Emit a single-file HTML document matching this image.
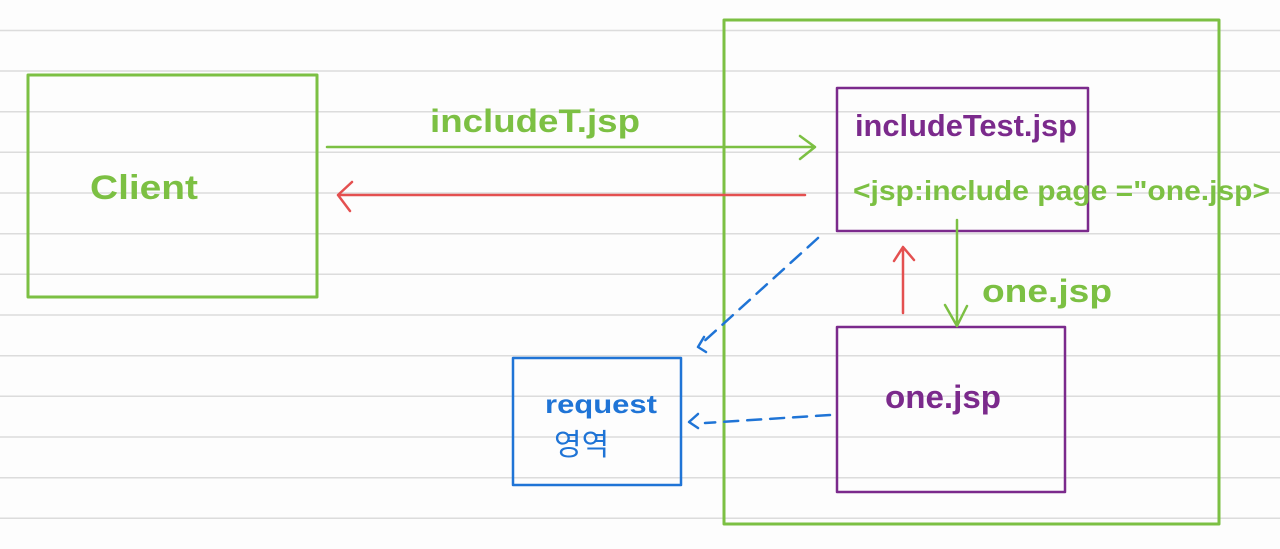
<!DOCTYPE html>
<html><head><meta charset="utf-8"><style>
html,body{margin:0;padding:0;background:#fdfdfd;}
svg{display:block}
text{font-family:"Liberation Sans","Noto Sans CJK KR",sans-serif;}
</style></head><body>
<svg width="1280" height="549" viewBox="0 0 1280 549" xmlns="http://www.w3.org/2000/svg">
<g stroke="#dcdcdc" stroke-width="1.5">
<line x1="0" y1="30.5" x2="1280" y2="30.5"/><line x1="0" y1="71" x2="1280" y2="71"/>
<line x1="0" y1="111.7" x2="1280" y2="111.7"/><line x1="0" y1="152.3" x2="1280" y2="152.3"/>
<line x1="0" y1="193" x2="1280" y2="193"/><line x1="0" y1="233.7" x2="1280" y2="233.7"/>
<line x1="0" y1="274.3" x2="1280" y2="274.3"/><line x1="0" y1="315" x2="1280" y2="315"/>
<line x1="0" y1="355.7" x2="1280" y2="355.7"/><line x1="0" y1="396.3" x2="1280" y2="396.3"/>
<line x1="0" y1="437" x2="1280" y2="437"/><line x1="0" y1="477.7" x2="1280" y2="477.7"/>
<line x1="0" y1="518.3" x2="1280" y2="518.3"/>
</g>
<g fill="none" stroke-linecap="round" stroke-linejoin="round">
<rect x="28" y="75" width="289" height="222" stroke="#7cc043" stroke-width="3"/>
<rect x="724" y="20" width="495" height="504" stroke="#7cc043" stroke-width="3"/>
<rect x="837" y="88" width="251" height="143" stroke="#7b2a8c" stroke-width="2.5"/>
<rect x="837" y="327" width="228" height="165" stroke="#7b2a8c" stroke-width="2.5"/>
<rect x="513" y="358" width="168" height="127" stroke="#1f74d6" stroke-width="2.5"/>
<path d="M327 147 L815 147 M800 136 L815 147 L800 159" stroke="#7cc043" stroke-width="2.5"/>
<path d="M805 195 L338 195 M352 182 L338 195 L350 211" stroke="#e45050" stroke-width="2.5"/>
<path d="M957 220 L957 326 M945 305 L957 326 L967 306" stroke="#7cc043" stroke-width="2.5"/>
<path d="M903 313 L903 247 M894 261 L903 247 L914 260" stroke="#e45050" stroke-width="2.5"/>
<path d="M818 238 L700 345" stroke="#1f74d6" stroke-width="2.5" stroke-dasharray="14 9"/>
<path d="M704 337 L698 347 L706 352" stroke="#1f74d6" stroke-width="2.5"/>
<path d="M830 415 L705 423" stroke="#1f74d6" stroke-width="2.5" stroke-dasharray="14 9"/>
<path d="M698 414 L689 422 L698 428" stroke="#1f74d6" stroke-width="2.5"/>
</g>
<g font-weight="bold">
<text x="430" y="132" font-size="32" fill="#7cc043" textLength="210" lengthAdjust="spacingAndGlyphs">includeT.jsp</text>
<text x="90" y="199" font-size="34" fill="#7cc043" textLength="108" lengthAdjust="spacingAndGlyphs">Client</text>
<text x="855" y="136" font-size="31" fill="#7b2a8c" textLength="222" lengthAdjust="spacingAndGlyphs">includeTest.jsp</text>
<text x="853" y="200" font-size="28" fill="#7cc043" textLength="417" lengthAdjust="spacingAndGlyphs">&lt;jsp:include page ="one.jsp&gt;</text>
<text x="982" y="302" font-size="32" fill="#7cc043" textLength="130" lengthAdjust="spacingAndGlyphs">one.jsp</text>
<text x="885" y="408" font-size="32" fill="#7b2a8c" textLength="116" lengthAdjust="spacingAndGlyphs">one.jsp</text>
<text x="545" y="413" font-size="26" fill="#1f74d6" textLength="112" lengthAdjust="spacingAndGlyphs">request</text>
<text x="554" y="455" font-size="30" fill="#1f74d6" font-weight="normal">영역</text>
</g>
</svg>
</body></html>
